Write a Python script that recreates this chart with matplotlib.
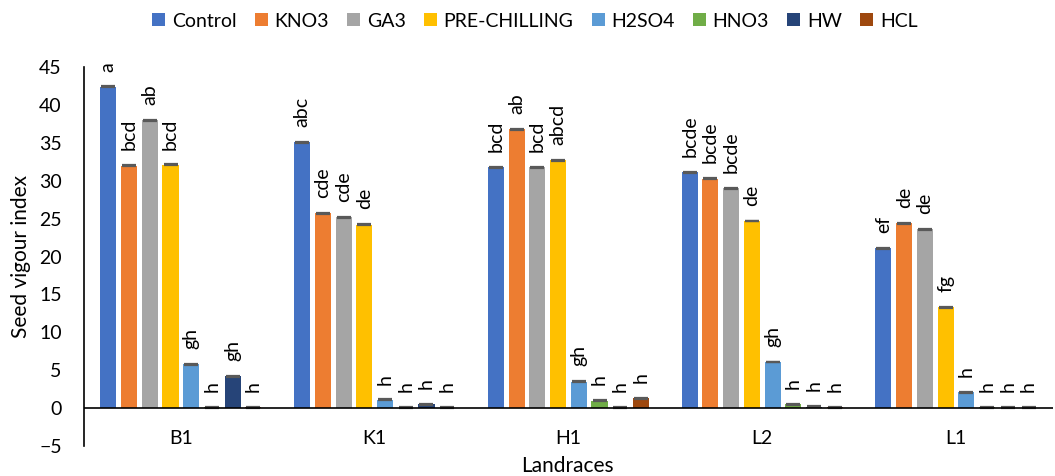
import matplotlib
matplotlib.use("Agg")
import matplotlib.pyplot as plt
import numpy as np

plt.rcParams['font.family'] = ['Lato', 'DejaVu Sans']

categories = ["B1", "K1", "H1", "L2", "L1"]
series_names = ["Control", "KNO3", "GA3", "PRE-CHILLING", "H2SO4", "HNO3", "HW", "HCL"]
colors = ["#4472C4", "#ED7D31", "#A5A5A5", "#FFC000", "#5B9BD5", "#70AD47", "#264478", "#9E480E"]

control = [42.4, 35.1, 31.8, 31.1, 21.1]
kno3 = [32.0, 25.7, 36.8, 30.3, 24.4]
ga3 = [38.0, 25.2, 31.8, 29.0, 23.6]
prechilling = [32.1, 24.2, 32.7, 24.7, 13.3]
h2so4 = [5.8, 1.1, 3.5, 6.1, 2.1]
hno3 = [0.1, 0.05, 1.0, 0.5, 0.1]
hw = [4.2, 0.5, 0.05, 0.2, 0.05]
hcl = [0.1, 0.05, 1.3, 0.1, 0.05]
errors = [0.05, 0.05, 0.05, 0.05, 0.05]

letters_control = ["a", "abc", "bcd", "bcde", "ef"]
letters_kno3 = ["bcd", "cde", "ab", "bcde", "de"]
letters_ga3 = ["ab", "cde", "bcd", "bcde", "de"]
letters_pre = ["bcd", "de", "abcd", "de", "fg"]
letters_h2so4 = ["gh", "h", "gh", "gh", "h"]
letters_hno3 = ["h", "h", "h", "h", "h"]
letters_hw = ["gh", "h", "h", "h", "h"]
letters_hcl = ["h", "h", "h", "h", "h"]

all_values = [control, kno3, ga3, prechilling, h2so4, hno3, hw, hcl]
all_letters = [letters_control, letters_kno3, letters_ga3, letters_pre,
               letters_h2so4, letters_hno3, letters_hw, letters_hcl]

fig = plt.figure(figsize=(10.55, 4.76), dpi=100)
ax = fig.add_axes([0.0796, 0.063, 0.9184, 0.796])

x = np.arange(len(categories))
step = 0.107
width = 0.083
for j, (name, vals, col, lets) in enumerate(zip(series_names, all_values, colors, all_letters)):
    xs = x + (j - 3.5) * step
    ax.bar(xs, vals, width=width, color=col, label=name, zorder=2)
    ax.errorbar(xs, vals, yerr=errors, fmt='none', ecolor='#595959',
                elinewidth=1.0, capsize=5.0, capthick=1.6, zorder=3)
    for xi, v, t in zip(xs, vals, lets):
        ax.annotate(t, (xi, v), xytext=(0, 11), textcoords='offset points',
                    rotation=90, ha='center', va='bottom', fontsize=14, color='black')

ax.set_xlim(-0.5, len(categories) - 0.5)
ax.set_ylim(-5, 45)
ax.set_yticks(np.arange(-5, 46, 5))
ax.tick_params(axis='y', length=0, pad=16, labelsize=14)
ax.set_xticks([])
ax.axhline(0, color='black', linewidth=1.2, zorder=4)
for s in ['top', 'right', 'bottom']:
    ax.spines[s].set_visible(False)
ax.spines['left'].set_color('black')
ax.spines['left'].set_linewidth(1.2)

for xi, c in zip(x, categories):
    ax.text(xi, -4.0, c, ha='center', va='center', fontsize=14)

ax.set_ylabel("Seed vigour index", fontsize=15, labelpad=6)
fig.text(0.538, 0.021, "Landraces", ha='center', va='center', fontsize=15)

fig.legend(loc='upper center', bbox_to_anchor=(0.507, 1.0), ncol=8, frameon=False,
           fontsize=14, handlelength=0.65, handleheight=0.65, handletextpad=0.35,
           columnspacing=0.95, borderaxespad=0.25)

fig.savefig("out.png", dpi=100)
